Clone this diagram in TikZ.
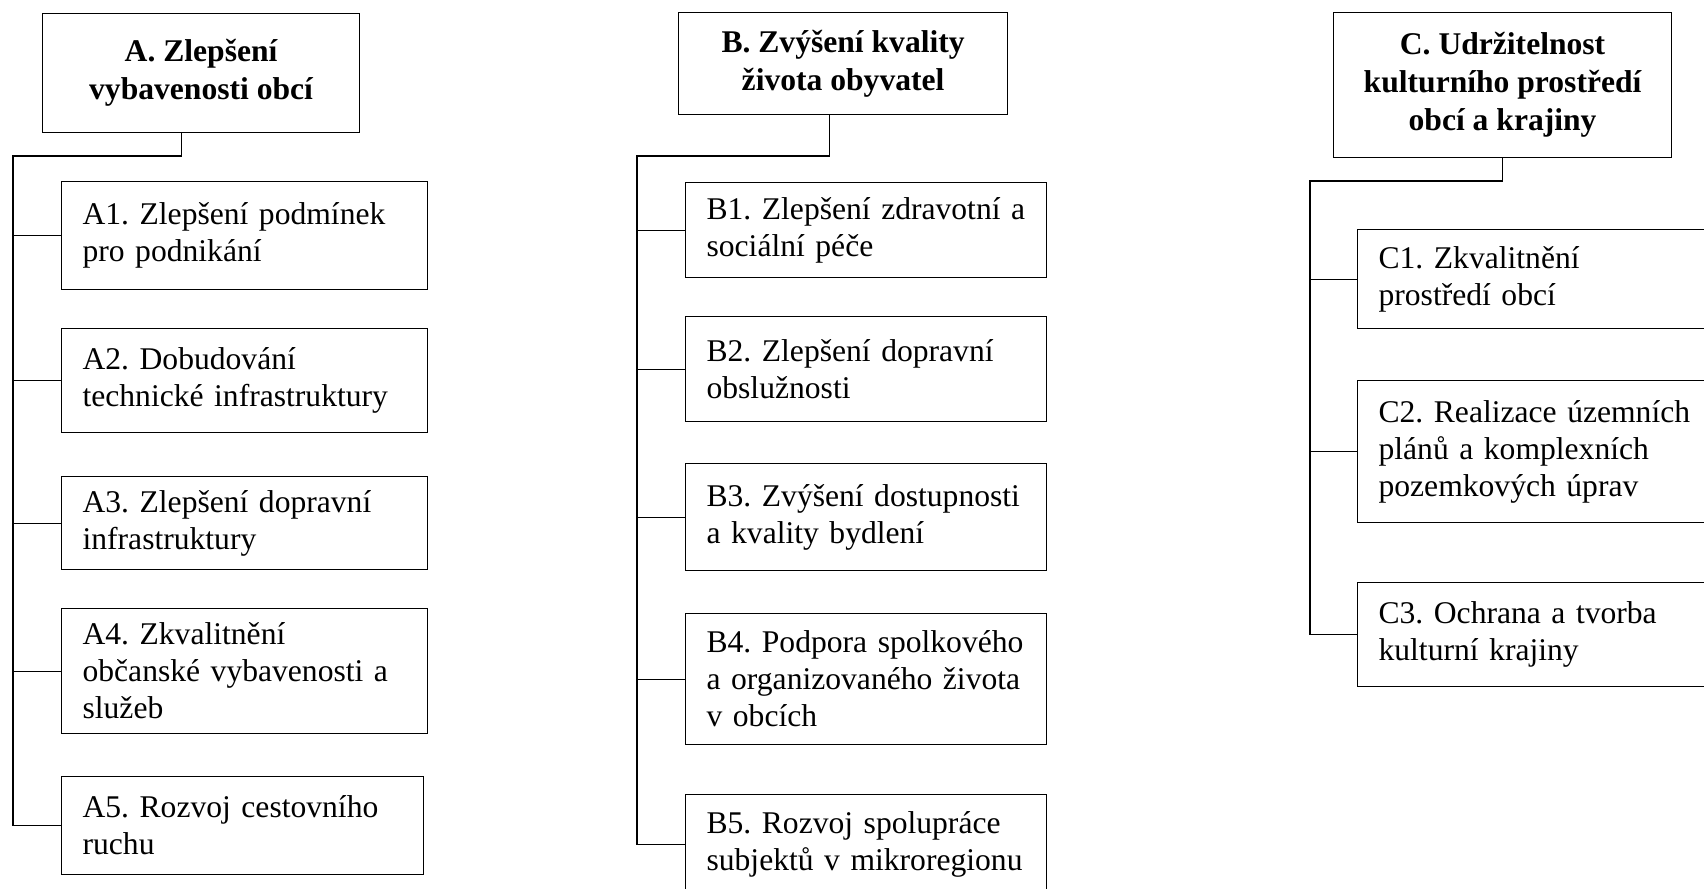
\documentclass[tikz,border=0pt]{standalone}
\usepackage{fontspec}
\setmainfont{Liberation Serif}
\usepackage{tikz}
\frenchspacing

\tikzset{
  goalbox/.style={draw, line width=0.6pt, anchor=north west, align=center,
    font=\fontsize{15.8}{19}\selectfont\bfseries, inner sep=0pt},
  measbox/.style={draw, line width=0.6pt, anchor=north west, align=left,
    font=\fontsize{15.8}{18.5}\selectfont, inner xsep=10.5pt, inner ysep=0pt},
  link/.style={line width=0.6pt}
}

\begin{document}
\begin{tikzpicture}[x=0.5pt, y=-0.5pt]
            \clip (0,0) rectangle (1704,889);

            % column A
            \node[goalbox, minimum width=158.5pt, minimum height=59.5pt] (Ahead) at (42,13)
                {A. Zlepšení\\vybavenosti obcí};
            \node[measbox, text width=162pt, minimum height=54pt] (A1) at (61,181)
                {A1. Zlepšení podmínek\\pro podnikání};
            \node[measbox, text width=162pt, minimum height=52pt] (A2) at (61,328)
                {A2. Dobudování\\technické infrastruktury};
            \node[measbox, text width=162pt, minimum height=46.5pt] (A3) at (61,476)
                {A3. Zlepšení dopravní\\infrastruktury};
            \node[measbox, text width=162pt, minimum height=62.5pt] (A4) at (61,608)
                {A4. Zkvalitnění\\občanské vybavenosti a\\služeb};
            \node[measbox, text width=160pt, minimum height=49pt] (A5) at (61,776)
                {A5. Rozvoj cestovního\\ruchu};
            \coordinate (a0) at (13,156);

            % column B
            \node[goalbox, minimum width=164.5pt, minimum height=51pt] (Bhead) at (678,12)
                {B. Zvýšení kvality\\života obyvatel};
            \node[measbox, text width=159.5pt, minimum height=47.5pt] (B1) at (685,182)
                {B1. Zlepšení zdravotní a\\sociální péče};
            \node[measbox, text width=159.5pt, minimum height=52.5pt] (B2) at (685,316)
                {B2. Zlepšení dopravní\\obslužnosti};
            \node[measbox, text width=159.5pt, minimum height=53.5pt] (B3) at (685,463)
                {B3. Zvýšení dostupnosti\\a kvality bydlení};
            \node[measbox, text width=159.5pt, minimum height=65.5pt] (B4) at (685,613)
                {B4. Podpora spolkového\\a organizovaného života\\v obcích};
            \node[measbox, text width=159.5pt, minimum height=50pt] (B5) at (685,794)
                {B5. Rozvoj spolupráce\\subjektů v mikroregionu};
            \coordinate (b0) at (637,156);

            % column C
            \node[goalbox, minimum width=169pt, minimum height=72.5pt] (Chead) at (1333,12)
                {C. Udržitelnost\\kulturního prostředí\\obcí a krajiny};
            \node[measbox, text width=161pt, minimum height=49.5pt] (C1) at (1357,229)
                {C1. Zkvalitnění\\prostředí obcí};
            \node[measbox, text width=161pt, minimum height=71pt] (C2) at (1357,380)
                {C2. Realizace územních\\plánů a komplexních\\pozemkových úprav};
            \node[measbox, text width=161pt, minimum height=52pt] (C3) at (1357,582)
                {C3. Ochrana a tvorba\\kulturní krajiny};
            \coordinate (c0) at (1310,181);

            \draw[link] ([xshift=-9.75pt]Ahead.south) |- (a0) |- (A5.west);
            \draw[link] (A1.west) -- (A1.west -| a0);
            \draw[link] (A2.west) -- (A2.west -| a0);
            \draw[link] (A3.west) -- (A3.west -| a0);
            \draw[link] (A4.west) -- (A4.west -| a0);

            \draw[link] ([xshift=-6.75pt]Bhead.south) |- (b0) |- (B5.west);
            \draw[link] (B1.west) -- (B1.west -| b0);
            \draw[link] (B2.west) -- (B2.west -| b0);
            \draw[link] (B3.west) -- (B3.west -| b0);
            \draw[link] (B4.west) -- (B4.west -| b0);

            \draw[link] (Chead.south) |- (c0) |- (C3.west);
            \draw[link] (C1.west) -- (C1.west -| c0);
            \draw[link] (C2.west) -- (C2.west -| c0);
        \end{tikzpicture}
\end{document}
